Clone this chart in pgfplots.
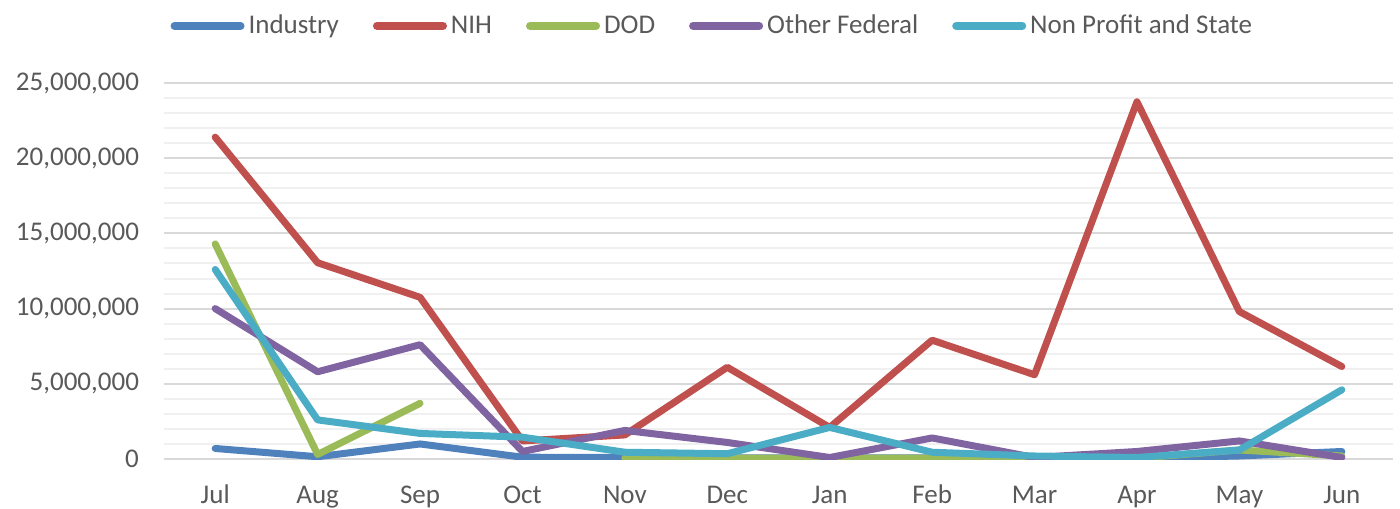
\documentclass[border=0pt]{standalone}
\usepackage{pgfplots}
\pgfplotsset{compat=1.18}
\usepackage{pgfplotstable}
\usepackage{fontspec}
\setmainfont{Carlito}
\definecolor{cInd}{HTML}{4F81BD}
\definecolor{cNIH}{HTML}{C0504D}
\definecolor{cDOD}{HTML}{9BBB59}
\definecolor{cOth}{HTML}{8064A2}
\definecolor{cNP}{HTML}{4BACC6}
\definecolor{txt}{HTML}{595959}
\pgfplotstableread{
x Industry NIH DOD Other NonProfit
0 700000 21400000 14300000 10000000 12600000
1 150000 13050000 300000 5800000 2600000
2 1000000 10750000 3700000 7600000 1700000
3 120000 1200000 nan 500000 1450000
4 100000 1600000 60000 1900000 450000
5 80000 6100000 60000 1100000 350000
6 80000 2100000 60000 100000 2100000
7 80000 7900000 60000 1400000 450000
8 60000 5600000 50000 100000 200000
9 50000 23750000 50000 500000 100000
10 200000 9800000 600000 1200000 600000
11 500000 6150000 200000 100000 4600000
}\data
\begin{document}
\begin{tikzpicture}
\begin{axis}[
  scale only axis,
  width=614.5pt, height=188pt,
  xmin=-0.5, xmax=11.5,
  ymin=0, ymax=25000000,
  xtick={0,...,11},
  xticklabels={Jul,Aug,Sep,Oct,Nov,Dec,Jan,Feb,Mar,Apr,May,Jun},
  ytick={0,5000000,10000000,15000000,20000000,25000000},
  minor y tick num=4,
  scaled y ticks=false,
  /pgf/number format/fixed,
  /pgf/number format/1000 sep={,},
  /pgf/number format/assume math mode=true,
  yticklabel style={xshift=-9pt},
  xticklabel style={yshift=-11pt, text height=1.6ex, text depth=0.3ex},
  tick label style={font=\fontsize{13.5}{15}\selectfont, text=txt},
  ymajorgrids, yminorgrids,
  major grid style={draw=black!15, line width=1pt},
  minor grid style={draw=black!6, line width=1pt},
  axis line style={draw=none},
  tick style={draw=none},
  unbounded coords=jump,
  every axis plot/.append style={line width=3.5pt, line cap=round, line join=round, mark=none},
  legend columns=5,
  legend style={draw=none, fill=none, at={(0.447,1.152)}, anchor=center,
    font=\fontsize{13.5}{15}\selectfont, text=txt,
    /tikz/every even column/.append style={column sep=15pt},
    /tikz/every odd column/.append style={column sep=0pt}},
  legend image code/.code={\draw[#1, line width=4pt, line cap=round] (0pt,0pt) -- (33pt,0pt);},
]
\addplot[cInd] table[x=x, y=Industry] {\data};
\addlegendentry{Industry}
\addplot[cNIH] table[x=x, y=NIH] {\data};
\addlegendentry{NIH}
\addplot[cDOD] table[x=x, y=DOD] {\data};
\addlegendentry{DOD}
\addplot[cOth] table[x=x, y=Other] {\data};
\addlegendentry{Other Federal}
\addplot[cNP] table[x=x, y=NonProfit] {\data};
\addlegendentry{Non Profit and State}
\end{axis}
\pgfresetboundingbox
\path[use as bounding box] ([shift={(-82pt,-24.5pt)}]current axis.south west) rectangle ([shift={(618pt,229.5pt)}]current axis.south west);
\end{tikzpicture}
\end{document}
